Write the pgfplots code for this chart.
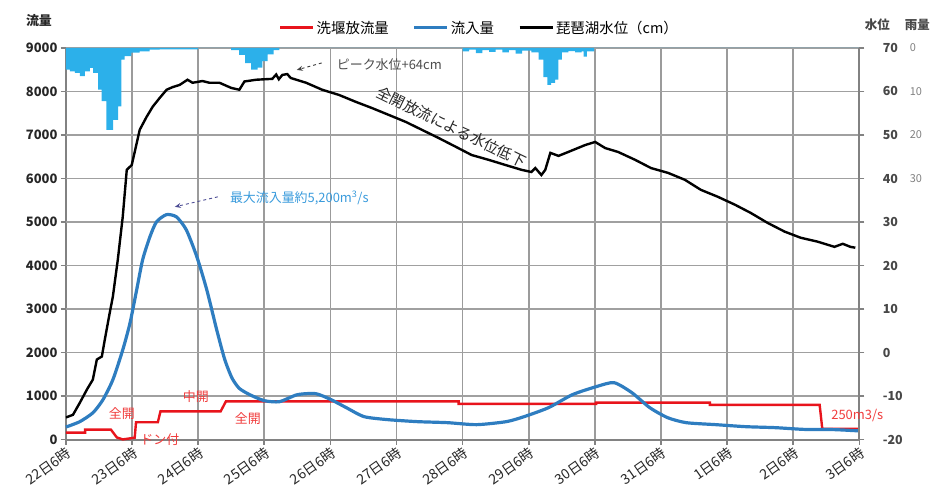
\documentclass[border=0pt]{standalone}
\usepackage{fontspec}
\setmainfont{Noto Sans CJK JP}
\usepackage{pgfplots}
\pgfplotsset{compat=1.18}
\usetikzlibrary{arrows.meta}
\definecolor{gridc}{RGB}{155,155,155}
\definecolor{hgridc}{RGB}{160,160,160}
\definecolor{axc}{RGB}{130,130,130}
\definecolor{redc}{HTML}{E8141C}
\definecolor{bluec}{HTML}{2E7DC0}
\definecolor{rainc}{HTML}{2CB0EA}
\definecolor{lblred}{HTML}{F03C3C}
\definecolor{lblblue}{HTML}{3A9BDC}
\definecolor{tickc}{HTML}{262626}
\begin{document}
\begin{tikzpicture}
\begin{scope}[x=1bp,y=1bp]
\useasboundingbox (0,0) rectangle (933,494);
\end{scope}
\pgfplotsset{
 common/.style={
  at={(66bp,54bp)}, anchor=south west,
  scale only axis, width=794bp, height=392bp,
  xmin=0, xmax=12,
  /pgf/number format/assume math mode=true,
  /pgf/number format/1000 sep={},
  scaled y ticks=false,
 }
}
% ---------- left axis: flows ----------
\begin{axis}[common,
  ymin=0, ymax=9000, ytick={0,1000,...,9000},
  xtick={0,...,12},
  xticklabels={22日6時,23日6時,24日6時,25日6時,26日6時,27日6時,28日6時,29日6時,30日6時,31日6時,1日6時,2日6時,3日6時},
  xmajorgrids=true,
  x grid style={draw=gridc, line width=1.6bp},
  axis x line*=bottom, axis y line*=left,
  axis line style={draw=axc, line width=2.2bp, -},
  tick align=outside, major tick length=5bp,
  major tick style={draw=axc, line width=1.6bp},
  clip=false,
  yticklabel style={font=\bfseries\fontsize{13}{13}\selectfont, text=tickc},
  xticklabel style={font=\fontsize{14}{14}\selectfont, text=tickc, rotate=35, anchor=north east, inner sep=1bp},
  legend style={at={(0.521,1.051)}, anchor=center, draw=none, fill=none,
     legend columns=3, font=\fontsize{14.5}{15}\selectfont,
     /tikz/every even column/.append style={column sep=22bp}},
  legend image code/.code={\draw[#1] (0bp,0bp) -- (33bp,0bp);},
]
% horizontal grid lines and tick marks, drawn as plain lines beneath the data
\pgfplotsinvokeforeach{1000,2000,...,9000}{\addplot[hgridc, line width=1.6bp, forget plot] coordinates {(0,#1) (12,#1)};}
\pgfplotsinvokeforeach{0,1000,...,9000}{\addplot[axc, line width=1.6bp, forget plot] coordinates {(-0.0756,#1) (0,#1)};
  \addplot[axc, line width=1.6bp, forget plot] coordinates {(12,#1) (12.0756,#1)};}
\pgfplotsinvokeforeach{0,...,12}{\addplot[axc, line width=1.6bp, forget plot] coordinates {(#1,0) (#1,-115)};}
\addlegendimage{redc, line width=3bp}\addlegendentry{洗堰放流量}
\addlegendimage{bluec, line width=3bp}\addlegendentry{流入量}
\addlegendimage{black, line width=3bp}\addlegendentry{琵琶湖水位（cm）}
% red: release
\addplot[redc, line width=2.4bp, forget plot] coordinates {
(0,160) (0.29,160) (0.29,230) (0.68,230) (0.77,50) (0.86,5) (0.95,25) (1.04,45) (1.06,400) (1.39,400) (1.43,650) (2.34,650) (2.42,880)
(5.94,880) (5.94,820) (8.02,820) (8.02,850) (9.74,850) (9.74,800) (11.40,800) (11.44,250) (12,250)};
% blue: inflow
\addplot[bluec, line width=3.2bp, smooth, tension=0.4, forget plot] coordinates {
(0,290) (0.21,413) (0.41,620) (0.56,918) (0.71,1378) (0.86,2066) (0.97,2686) (1.07,3444) (1.16,4133) (1.27,4661) (1.37,5005) (1.52,5170) (1.67,5120) (1.82,4822) (1.98,4202) (2.13,3444) (2.28,2526) (2.40,1850) (2.51,1420) (2.62,1180) (2.78,1033) (3.0,895) (3.23,872) (3.50,1033) (3.78,1056) (4.01,918) (4.24,735) (4.51,528) (4.87,459) (5.32,413) (5.77,390) (6.21,344) (6.66,413) (6.93,528) (7.30,735) (7.66,1033) (8.02,1217) (8.29,1309) (8.56,1079) (8.83,735) (9.10,505) (9.38,390) (9.83,344) (10.28,298) (10.73,275) (11.17,235) (11.62,230) (12,200)};
\end{axis}
% ---------- rain axis (reversed) ----------
\begin{axis}[common,
  y dir=reverse, ymin=0, ymax=90, ytick={0,10,20,30},
  hide x axis, axis y line*=right,
  y axis line style={draw=none}, major tick length=0pt,
  yticklabel style={font=\fontsize{11}{11}\selectfont, text=gray, anchor=west, xshift=47bp},
]
\addplot[const plot, fill=rainc, draw=none] coordinates {
(0,5.0) (0.06,5.4) (0.136,5.7) (0.211,6.5) (0.286,5.4) (0.362,4.6) (0.412,5.7) (0.487,9.6) (0.538,12.2) (0.613,18.8) (0.713,16.5) (0.789,13.4) (0.839,2.7) (0.889,1.9) (0.99,1.1) (1.116,0.8) (1.266,0.4) (1.417,0.3) (2.0,0)
(2.5,0.5) (2.62,1.6) (2.71,3.5) (2.80,5.0) (2.90,4.5) (2.97,3.0) (3.05,1.5) (3.14,0.5) (3.23,0)
(6.0,0.8) (6.1,0.4) (6.2,1.2) (6.3,0.5) (6.4,0.9) (6.5,0.4) (6.6,1.0) (6.7,0.5) (6.8,1.3) (6.9,0.6) (7.04,1.0) (7.15,2.7) (7.22,6.7) (7.28,8.5) (7.34,8.0) (7.40,7.3) (7.45,2.7) (7.50,1.0) (7.6,0.7) (7.7,1.0) (7.8,0.8) (7.83,2.0) (7.88,0.8) (7.99,0) (12,0)} \closedcycle;
\end{axis}
% ---------- right axis: lake level ----------
\begin{axis}[common,
  ymin=-20, ymax=70, ytick={-20,-10,...,70},
  hide x axis, axis y line*=right,
  axis line style={draw=axc, line width=2.2bp, -},
  tick align=outside, major tick length=5bp,
  major tick style={draw=axc, line width=1.6bp},
  yticklabel style={font=\bfseries\fontsize{12.5}{13}\selectfont, text=tickc!85, anchor=west, xshift=15bp},
]
\addplot[black, line width=2.4bp] coordinates {
(0,-14.9) (0.106,-14.3) (0.211,-11.5) (0.317,-8.5) (0.407,-6.2) (0.467,-1.6) (0.543,-0.9) (0.588,3.0) (0.663,9.2) (0.709,12.8) (0.784,21.3) (0.859,31.2) (0.920,42) (0.995,43.1) (1.040,46.1) (1.116,51.2) (1.221,54.2) (1.312,56.5) (1.417,58.5) (1.523,60.4) (1.613,61.0) (1.719,61.5) (1.839,62.7) (1.915,62.0) (2.065,62.4) (2.171,62.0) (2.322,62.0) (2.503,60.8) (2.623,60.4) (2.70,62.3) (2.880,62.7) (3.121,62.9) (3.18,63.9) (3.22,62.8) (3.272,63.8) (3.347,64.0) (3.40,63.1) (3.633,62.0) (3.875,60.4) (4.131,59.2) (4.387,57.6) (4.628,56.2) (4.885,54.6) (5.141,53.0) (5.382,51.2) (5.638,49.3) (5.895,47.3) (6.136,45.4) (6.392,44.3) (6.649,43.1) (6.890,42.0) (7.040,41.5) (7.10,42.4) (7.191,40.8) (7.25,42.0) (7.327,45.9) (7.45,45.2) (7.598,46.1) (7.855,47.7) (8.005,48.4) (8.156,47.0) (8.352,46.1) (8.608,44.3) (8.850,42.4) (9.106,41.3) (9.362,39.7) (9.603,37.4) (9.860,35.8) (10.116,34.0) (10.357,32.1) (10.613,29.8) (10.870,27.8) (11.111,26.4) (11.367,25.5) (11.624,24.3) (11.75,25.0) (11.865,24.3) (11.940,24.1)};
\end{axis}
% ---------- texts ----------
\begin{scope}[x=1bp,y=1bp]
\node[font=\bfseries\fontsize{13}{13}\selectfont, text=tickc] at (39,473) {流量};
\node[font=\bfseries\fontsize{12.5}{13}\selectfont, text=tickc!85] at (878,469) {水位};
\node[font=\bfseries\fontsize{12.5}{13}\selectfont, text=tickc!85] at (918,469) {雨量};
\node[anchor=west, font=\fontsize{13}{13}\selectfont, text=black!70, inner sep=0pt] at (337,429) {ピーク水位+64cm};
\draw[black!75, line width=0.9bp, dashed, -{Stealth[length=6bp,width=5bp]}] (322,431) -- (297,424);
\node[rotate=-26, font=\fontsize{15}{15}\selectfont, text=black!85] at (452,367) {全開放流による水位低下};
\node[anchor=west, font=\fontsize{13}{13}\selectfont, text=lblblue, inner sep=0pt] at (230,296) {最大流入量約5,200m\textsuperscript{3}/s};
\draw[black!60!blue!70, line width=0.9bp, dashed, -{Stealth[length=6bp,width=5bp]}] (218,297) -- (175,287);
\begin{scope}[every node/.style={font=\fontsize{13}{13}\selectfont, text=lblred, inner sep=0pt}]
\node at (122,80) {全開};
\node at (196,97) {中開};
\node at (248,75) {全開};
\node at (160,54) {ドン付};
\node at (858,78) {250m3/s};
\end{scope}
\end{scope}
\end{tikzpicture}
\end{document}
